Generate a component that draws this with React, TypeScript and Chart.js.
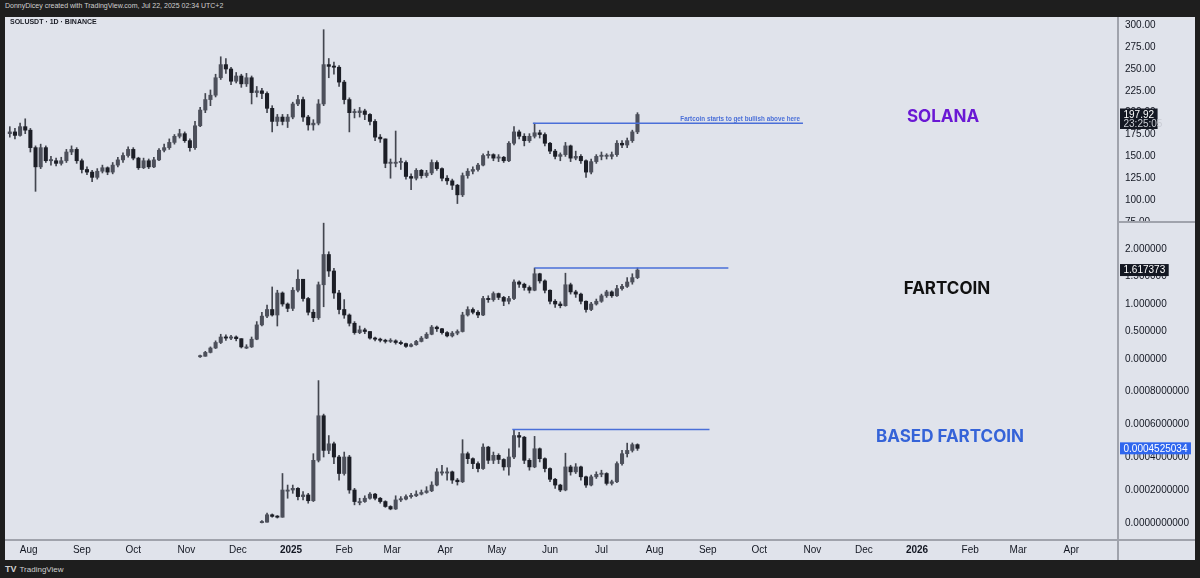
import React, { useEffect, useRef } from "react";
import { Chart, registerables } from "chart.js";

Chart.register(...registerables);
Chart.defaults.font.family = "'Liberation Sans', Arial, sans-serif";

// Days are counted from 1 Jan 2025; one candle per 3 days, slot 0 = 21 Jul 2024.
const candleFirstDay = -164;
const candleStepDays = 3;

// ---------- SOLUSDT ----------
const solStartSlot = 0;
const solFirstOpen = 176;
const solClose = [
  178, 174, 184, 180, 160, 138, 160, 145, 145, 142,
  145, 155, 158, 145, 135, 132, 126, 133, 137, 132,
  140, 146, 151, 158, 148, 137, 145, 138, 146, 157,
  160, 166, 173, 176, 168, 160, 185, 203, 215, 220,
  240, 255, 250, 236, 242, 233, 240, 223, 225, 222,
  205, 190, 195, 190, 195, 210, 215, 195, 186, 188,
  210, 255, 253, 252, 235, 215, 200, 200, 202, 198,
  190, 172, 170, 142, 142, 143, 143, 127, 125, 134,
  128, 131, 143, 136, 125, 122, 117, 106, 128, 133,
  135, 140, 151, 152, 148, 149, 145, 165, 178, 173,
  168, 173, 177, 175, 165, 156, 150, 152, 162, 148,
  150, 145, 132, 144, 150, 150, 150, 152, 165, 163,
  168, 178, 197.92,
];
const solHigh = [
  184, 182, 188, 193, 182, 162, 164, 162, 150, 148,
  149, 158, 162, 160, 147, 138, 134, 136, 140, 138,
  143, 149, 154, 161, 160, 149, 148, 147, 149, 159,
  164, 170, 175, 181, 178, 170, 190, 206, 222, 226,
  244, 264, 262, 252, 246, 244, 245, 242, 230, 228,
  224, 208, 198, 198, 198, 212, 220, 218, 197, 192,
  215, 295, 262, 258, 254, 237, 217, 204, 206, 204,
  199, 192, 175, 170, 147, 179, 148, 145, 130, 136,
  135, 134, 146, 145, 137, 128, 124, 118, 131, 136,
  138, 142, 153, 156, 153, 152, 150, 167, 184, 180,
  176, 176, 188, 180, 177, 166, 158, 154, 166, 163,
  156, 152, 146, 147, 152, 155, 153, 155, 168, 168,
  171, 180, 200,
];
const solLow = [
  172, 170, 173, 176, 155, 110, 136, 143, 140, 139,
  140, 143, 152, 142, 131, 129, 121, 124, 131, 129,
  130, 138, 143, 149, 146, 135, 136, 136, 137, 145,
  155, 158, 164, 171, 166, 156, 158, 184, 200, 208,
  218, 238, 245, 232, 234, 229, 230, 210, 218, 216,
  200, 178, 185, 186, 183, 193, 208, 190, 180, 180,
  186, 208, 240, 244, 230, 210, 178, 194, 195, 192,
  186, 168, 166, 137, 125, 138, 135, 124, 112, 123,
  125, 126, 129, 134, 122, 118, 112, 96, 104, 125,
  130, 133, 139, 148, 145, 144, 143, 144, 163, 170,
  162, 166, 171, 171, 162, 153, 147, 145, 150, 144,
  146, 142, 126, 130, 142, 146, 147, 147, 150, 160,
  160, 166, 176,
];

// ---------- FARTCOIN ----------
const fartStartSlot = 37;
const fartFirstOpen = 0.04;
const fartClose = [
  0.05, 0.12, 0.2, 0.3, 0.4, 0.38, 0.4, 0.37, 0.22, 0.22,
  0.36, 0.62, 0.78, 0.9, 0.8, 1.2, 1.0, 0.92, 1.25, 1.45,
  1.1, 0.85, 0.75, 1.35, 1.9, 1.6, 1.2, 0.9, 0.8, 0.65,
  0.48, 0.53, 0.5, 0.38, 0.36, 0.34, 0.32, 0.33, 0.3, 0.28,
  0.23, 0.26, 0.32, 0.38, 0.45, 0.58, 0.55, 0.48, 0.42, 0.47,
  0.5, 0.8, 0.9, 0.85, 0.8, 1.1, 1.08, 1.19, 1.12, 1.05,
  1.1, 1.4, 1.36, 1.3, 1.25, 1.55, 1.42, 1.25, 1.05, 1.0,
  0.97, 1.35, 1.22, 1.18, 1.05, 0.9, 1.0, 1.05, 1.15, 1.22,
  1.15, 1.28, 1.32, 1.4, 1.48, 1.617373,
];
const fartHigh = [
  0.07, 0.14, 0.22, 0.33, 0.45, 0.44, 0.43, 0.42, 0.37, 0.26,
  0.4, 0.68, 0.85, 0.98, 1.31, 1.25, 1.22, 1.02, 1.3, 1.62,
  1.45, 1.12, 0.9, 1.4, 2.47, 1.95, 1.65, 1.25, 1.08, 0.82,
  0.68, 0.6, 0.56, 0.5, 0.4, 0.38, 0.36, 0.37, 0.35, 0.33,
  0.29, 0.28, 0.34, 0.41, 0.48, 0.61, 0.6, 0.56, 0.5, 0.5,
  0.53, 0.85, 0.95, 0.93, 0.88, 1.14, 1.15, 1.22, 1.2, 1.14,
  1.14, 1.44, 1.42, 1.38, 1.33, 1.655, 1.56, 1.44, 1.26, 1.08,
  1.04, 1.56, 1.38, 1.25, 1.2, 1.06, 1.03, 1.09, 1.18, 1.25,
  1.24, 1.34, 1.36, 1.48, 1.55, 1.655,
];
const fartLow = [
  0.03, 0.05, 0.11, 0.19, 0.28, 0.34, 0.35, 0.33, 0.2, 0.19,
  0.21, 0.35, 0.6, 0.75, 0.78, 0.6, 0.96, 0.86, 0.88, 1.22,
  1.05, 0.8, 0.68, 0.72, 0.95, 1.5, 1.1, 0.82, 0.74, 0.6,
  0.45, 0.46, 0.46, 0.36, 0.33, 0.31, 0.29, 0.3, 0.27, 0.26,
  0.21, 0.22, 0.25, 0.31, 0.37, 0.44, 0.5, 0.45, 0.4, 0.4,
  0.44, 0.49, 0.78, 0.82, 0.75, 0.79, 1.03, 1.05, 1.08, 0.97,
  1.0, 1.08, 1.3, 1.25, 1.2, 1.24, 1.38, 1.2, 1.0, 0.94,
  0.93, 0.96, 1.18, 1.12, 1.0, 0.85, 0.88, 0.98, 1.03, 1.12,
  1.12, 1.14, 1.25, 1.3, 1.36, 1.46,
];

// ---------- BASED FARTCOIN (values in units of 0.0001) ----------
const basedStartSlot = 49;
const basedFirstOpen = 0.02;
const basedClose = [
  0.05, 0.5, 0.4, 0.35, 2.0, 2.0, 2.1, 1.6, 1.7, 1.35,
  3.8, 6.5, 4.4, 4.8, 4.0, 3.0, 4.0, 2.0, 1.3, 1.3,
  1.5, 1.75, 1.5, 1.3, 1.0, 0.85, 1.4, 1.45, 1.6, 1.65,
  1.75, 1.85, 1.95, 2.3, 3.1, 3.1, 3.1, 2.6, 2.5, 4.2,
  3.9, 3.6, 3.3, 4.6, 3.8, 4.1, 3.85, 3.4, 4.0, 5.3,
  5.2, 3.8, 3.4, 4.5, 3.9, 3.3, 2.65, 2.3, 2.0, 3.4,
  3.1, 3.4, 2.8, 2.3, 2.8, 2.95, 3.0, 2.4, 2.5, 3.6,
  4.2, 4.4, 4.75, 4.525034,
];
const basedHigh = [
  0.15, 0.6, 0.55, 0.45, 3.0, 2.3, 2.3, 2.15, 1.9, 1.8,
  4.2, 8.63, 6.6, 5.3, 4.9, 4.1, 4.3, 4.1, 2.1, 1.5,
  1.65, 1.85, 1.8, 1.55, 1.35, 1.05, 1.65, 1.6, 1.7, 1.8,
  1.95, 2.0, 2.2, 2.5, 3.3, 3.5, 3.35, 3.15, 2.7, 5.05,
  4.3, 3.95, 3.7, 4.8, 4.65, 4.3, 4.2, 3.9, 4.5, 5.66,
  5.5, 5.25, 3.9, 5.25, 4.55, 3.95, 3.35, 2.7, 2.35, 4.23,
  3.5, 3.6, 3.45, 2.85, 2.9, 3.1, 3.2, 3.05, 2.6, 3.7,
  4.4, 4.84, 4.85, 4.8,
];
const basedLow = [
  0.0, 0.05, 0.35, 0.3, 0.35, 1.5, 1.8, 1.4, 1.4, 1.2,
  1.3, 3.7, 4.0, 4.2, 3.6, 2.6, 2.9, 1.8, 1.1, 1.1,
  1.25, 1.45, 1.4, 1.2, 0.95, 0.8, 0.82, 1.3, 1.4, 1.5,
  1.6, 1.7, 1.8, 1.9, 2.25, 2.9, 2.6, 2.4, 2.3, 2.45,
  3.6, 3.3, 3.1, 3.25, 3.6, 3.6, 3.6, 3.2, 2.9, 3.9,
  4.6, 3.6, 3.2, 3.35, 3.7, 3.1, 2.5, 2.1, 1.9, 1.95,
  2.9, 3.0, 2.6, 2.15, 2.25, 2.7, 2.8, 2.3, 2.3, 2.45,
  3.5, 4.0, 4.3, 4.4,
];

// ---------- axes ----------
const xTickDays = [-153, -122, -92, -61, -31, 0, 31, 59, 90, 120, 151, 181, 212, 243, 273, 304, 334, 365, 396, 424, 455];
const xTickLabels = ["Aug", "Sep", "Oct", "Nov", "Dec", "2025", "Feb", "Mar", "Apr", "May", "Jun", "Jul", "Aug", "Sep", "Oct", "Nov", "Dec", "2026", "Feb", "Mar", "Apr"];
const solTicks = [75, 100, 125, 150, 175, 200, 225, 250, 275, 300];
const fartTicks = [0, 0.5, 1, 1.5, 2];
const basedTicks = [0, 2, 4, 6, 8];

// ---------- horizontal levels (days, price) ----------
const solLevel = { from: 141, to: 298.5, value: 188 };
const fartLevel = { from: 142, to: 255, value: 1.655 };
const basedLevel = { from: 129, to: 244, value: 5.66 };
const solNote = "Fartcoin starts to get bullish above here";

const X_MIN = -166.8;
const X_MAX = 482.2;

const UP = "#4d505b";
const DOWN = "#1c1e26";
const WICK = "#43464f";
const BLUE = "#4a6fd8";
const AXIS_TEXT = "#131722";

type PaneCfg = {
  startSlot: number;
  firstOpen: number;
  close: number[];
  high: number[];
  low: number[];
  yMin: number;
  yMax: number;
  ticks: number[];
  fmt: (v: number) => string;
  level: { from: number; to: number; value: number };
  note?: string;
  lastText: string;
  lastSub?: string;
  lastBg: string;
  showX: boolean;
};

function createPane(canvas: HTMLCanvasElement, cfg: PaneCfg) {
  const wicks: any[] = [];
  const bodies: any[] = [];
  const ups: boolean[] = [];
  for (let k = 0; k < cfg.close.length; k++) {
    const day = candleFirstDay + candleStepDays * (cfg.startSlot + k);
    const open = k === 0 ? cfg.firstOpen : cfg.close[k - 1];
    wicks.push({ x: day, y: [cfg.low[k], cfg.high[k]] });
    bodies.push({ x: day, y: [open, cfg.close[k]] });
    ups.push(cfg.close[k] >= open);
  }
  const lastValue = cfg.close[cfg.close.length - 1];

  const extras = {
    id: "paneExtras",
    afterDatasetsDraw(chart: any) {
      if (!cfg.note) return;
      const c = chart.ctx;
      const xs = chart.scales.x;
      const ys = chart.scales.y;
      c.save();
      c.font = "bold 6.3px 'Liberation Sans', Arial, sans-serif";
      c.fillStyle = BLUE;
      c.textAlign = "right";
      c.textBaseline = "alphabetic";
      c.fillText(cfg.note, xs.getPixelForValue(cfg.level.to) - 3, ys.getPixelForValue(cfg.level.value) - 2.5);
      c.restore();
    },
    afterDraw(chart: any) {
      const c = chart.ctx;
      const ys = chart.scales.y;
      const py = ys.getPixelForValue(lastValue);
      const x0 = ys.left + 2;
      c.save();
      c.font = "10px 'Liberation Sans', Arial, sans-serif";
      const w = c.measureText(cfg.lastText).width + 7;
      const h = cfg.lastSub ? 20.5 : 12;
      c.fillStyle = cfg.lastBg;
      c.fillRect(x0, py - 6, w, h);
      c.fillStyle = "#ffffff";
      c.textBaseline = "middle";
      c.textAlign = "left";
      c.fillText(cfg.lastText, x0 + 3.5, py + 0.5);
      if (cfg.lastSub) {
        c.fillStyle = "#c9ccd4";
        c.fillText(cfg.lastSub, x0 + 3.5, py + 9.5);
      }
      c.restore();
    },
  };

  return new Chart(canvas, {
    type: "bar",
    data: {
      datasets: [
        {
          type: "bar",
          data: wicks,
          backgroundColor: WICK,
          barThickness: 1,
          grouped: false,
          order: 2,
        } as any,
        {
          type: "bar",
          data: bodies,
          backgroundColor: (ctx: any) => (ups[ctx.dataIndex] ? UP : DOWN),
          barThickness: 3.4,
          minBarLength: 1.2,
          grouped: false,
          order: 1,
        } as any,
        {
          type: "line",
          data: [
            { x: cfg.level.from, y: cfg.level.value },
            { x: cfg.level.to, y: cfg.level.value },
          ],
          borderColor: BLUE,
          borderWidth: 1.5,
          pointRadius: 0,
          order: 0,
        } as any,
      ],
    },
    options: {
      responsive: false,
      animation: false,
      events: [],
      layout: { padding: 0, autoPadding: false },
      plugins: { legend: { display: false }, tooltip: { enabled: false } },
      scales: {
        x: {
          type: "linear",
          min: X_MIN,
          max: X_MAX,
          offset: false,
          display: cfg.showX,
          grid: { display: false, drawTicks: false },
          border: { display: false },
          afterBuildTicks: (s: any) => {
            s.ticks = xTickDays.map((v) => ({ value: v }));
          },
          afterFit: (s: any) => {
            s.height = cfg.showX ? 20 : 0;
            s.paddingLeft = 0;
            s.paddingRight = 0;
          },
          ticks: {
            autoSkip: false,
            maxRotation: 0,
            minRotation: 0,
            padding: 4,
            color: AXIS_TEXT,
            font: (ctx: any) => ({
              size: 10,
              weight: /^\d{4}$/.test(xTickLabels[ctx.index] || "") ? "bold" : "normal",
            }),
            callback: (v: any, i: number) => xTickLabels[i],
          },
        } as any,
        y: {
          type: "linear",
          position: "right",
          min: cfg.yMin,
          max: cfg.yMax,
          beginAtZero: false,
          grid: { display: false, drawTicks: false },
          border: { display: false },
          afterBuildTicks: (s: any) => {
            s.ticks = cfg.ticks.map((v) => ({ value: v }));
          },
          afterFit: (s: any) => {
            s.width = 77;
            s.paddingTop = 0;
            s.paddingBottom = 0;
          },
          ticks: {
            autoSkip: false,
            padding: 7,
            color: AXIS_TEXT,
            font: { size: 10 },
            callback: (v: any) => cfg.fmt(Number(v)),
          },
        } as any,
      },
    },
    plugins: [extras],
  });
}

const solCfg: PaneCfg = {
  startSlot: solStartSlot, firstOpen: solFirstOpen, close: solClose, high: solHigh, low: solLow,
  yMin: 74.9, yMax: 309.5, ticks: solTicks, fmt: (v) => v.toFixed(2),
  level: solLevel, note: solNote, lastText: "197.92", lastSub: "23:25:05", lastBg: "#131722", showX: false,
};
const fartCfg: PaneCfg = {
  startSlot: fartStartSlot, firstOpen: fartFirstOpen, close: fartClose, high: fartHigh, low: fartLow,
  yMin: -0.309, yMax: 2.491, ticks: fartTicks, fmt: (v) => v.toFixed(6),
  level: fartLevel, lastText: "1.617373", lastBg: "#131722", showX: false,
};
const basedCfg: PaneCfg = {
  startSlot: basedStartSlot, firstOpen: basedFirstOpen, close: basedClose, high: basedHigh, low: basedLow,
  yMin: -1.03, yMax: 8.909, ticks: basedTicks, fmt: (v) => (v / 10000).toFixed(10),
  level: basedLevel, lastText: "0.0004525034", lastBg: "#2f66ee", showX: true,
};

function Pane({ cfg, top, height }: { cfg: PaneCfg; top: number; height: number }) {
  const ref = useRef<HTMLCanvasElement>(null);
  useEffect(() => {
    const chart = createPane(ref.current as HTMLCanvasElement, cfg);
    return () => chart.destroy();
  }, []);
  return (
    <canvas
      ref={ref}
      width={1190}
      height={height}
      style={{ position: "absolute", left: 5, top, width: 1190, height }}
    />
  );
}

const sepColor = "#a0a3ac";

export default function App() {
  return (
    <div
      style={{
        position: "fixed",
        left: 0,
        top: 0,
        width: 1200,
        height: 578,
        background: "#1e1e1e",
        overflow: "hidden",
        fontFamily: "'Liberation Sans', Arial, sans-serif",
      }}
    >
      <div style={{ position: "absolute", left: 5, top: 2, fontSize: 7, color: "#cfcfcf", whiteSpace: "nowrap" }}>
        DonnyDicey created with TradingView.com, Jul 22, 2025 02:34 UTC+2
      </div>
      <div style={{ position: "absolute", left: 5, top: 17, width: 1190, height: 543, background: "#e0e3eb" }} />
      <Pane cfg={solCfg} top={17} height={205} />
      <Pane cfg={fartCfg} top={222} height={154} />
      <Pane cfg={basedCfg} top={376} height={184} />
      <div style={{ position: "absolute", left: 1117, top: 17, width: 2, height: 543, background: sepColor }} />
      <div style={{ position: "absolute", left: 1118, top: 221, width: 77, height: 2, background: sepColor }} />
      <div style={{ position: "absolute", left: 5, top: 539, width: 1190, height: 2, background: sepColor }} />
      <div style={{ position: "absolute", left: 10, top: 18, fontSize: 7, fontWeight: 600, color: "#1b1d26", whiteSpace: "nowrap" }}>
        SOLUSDT · 1D · BINANCE
      </div>
      <div style={{ position: "absolute", left: 943, top: 116, transform: "translate(-50%,-50%)", fontFamily: "Inter, sans-serif", fontWeight: 700, fontSize: 17, color: "#6a18d4", whiteSpace: "nowrap" }}>
        SOLANA
      </div>
      <div style={{ position: "absolute", left: 947, top: 288, transform: "translate(-50%,-50%)", fontFamily: "Inter, sans-serif", fontWeight: 700, fontSize: 17, color: "#111111", whiteSpace: "nowrap" }}>
        FARTCOIN
      </div>
      <div style={{ position: "absolute", left: 950, top: 436, transform: "translate(-50%,-50%)", fontFamily: "Inter, sans-serif", fontWeight: 700, fontSize: 17, color: "#3563d8", whiteSpace: "nowrap" }}>
        BASED FARTCOIN
      </div>
      <div style={{ position: "absolute", left: 5, top: 564, fontSize: 8, color: "#d0d0d0", whiteSpace: "nowrap" }}>
        <span style={{ fontWeight: 800, fontSize: 9, marginRight: 3 }}>TV</span>TradingView
      </div>
    </div>
  );
}
